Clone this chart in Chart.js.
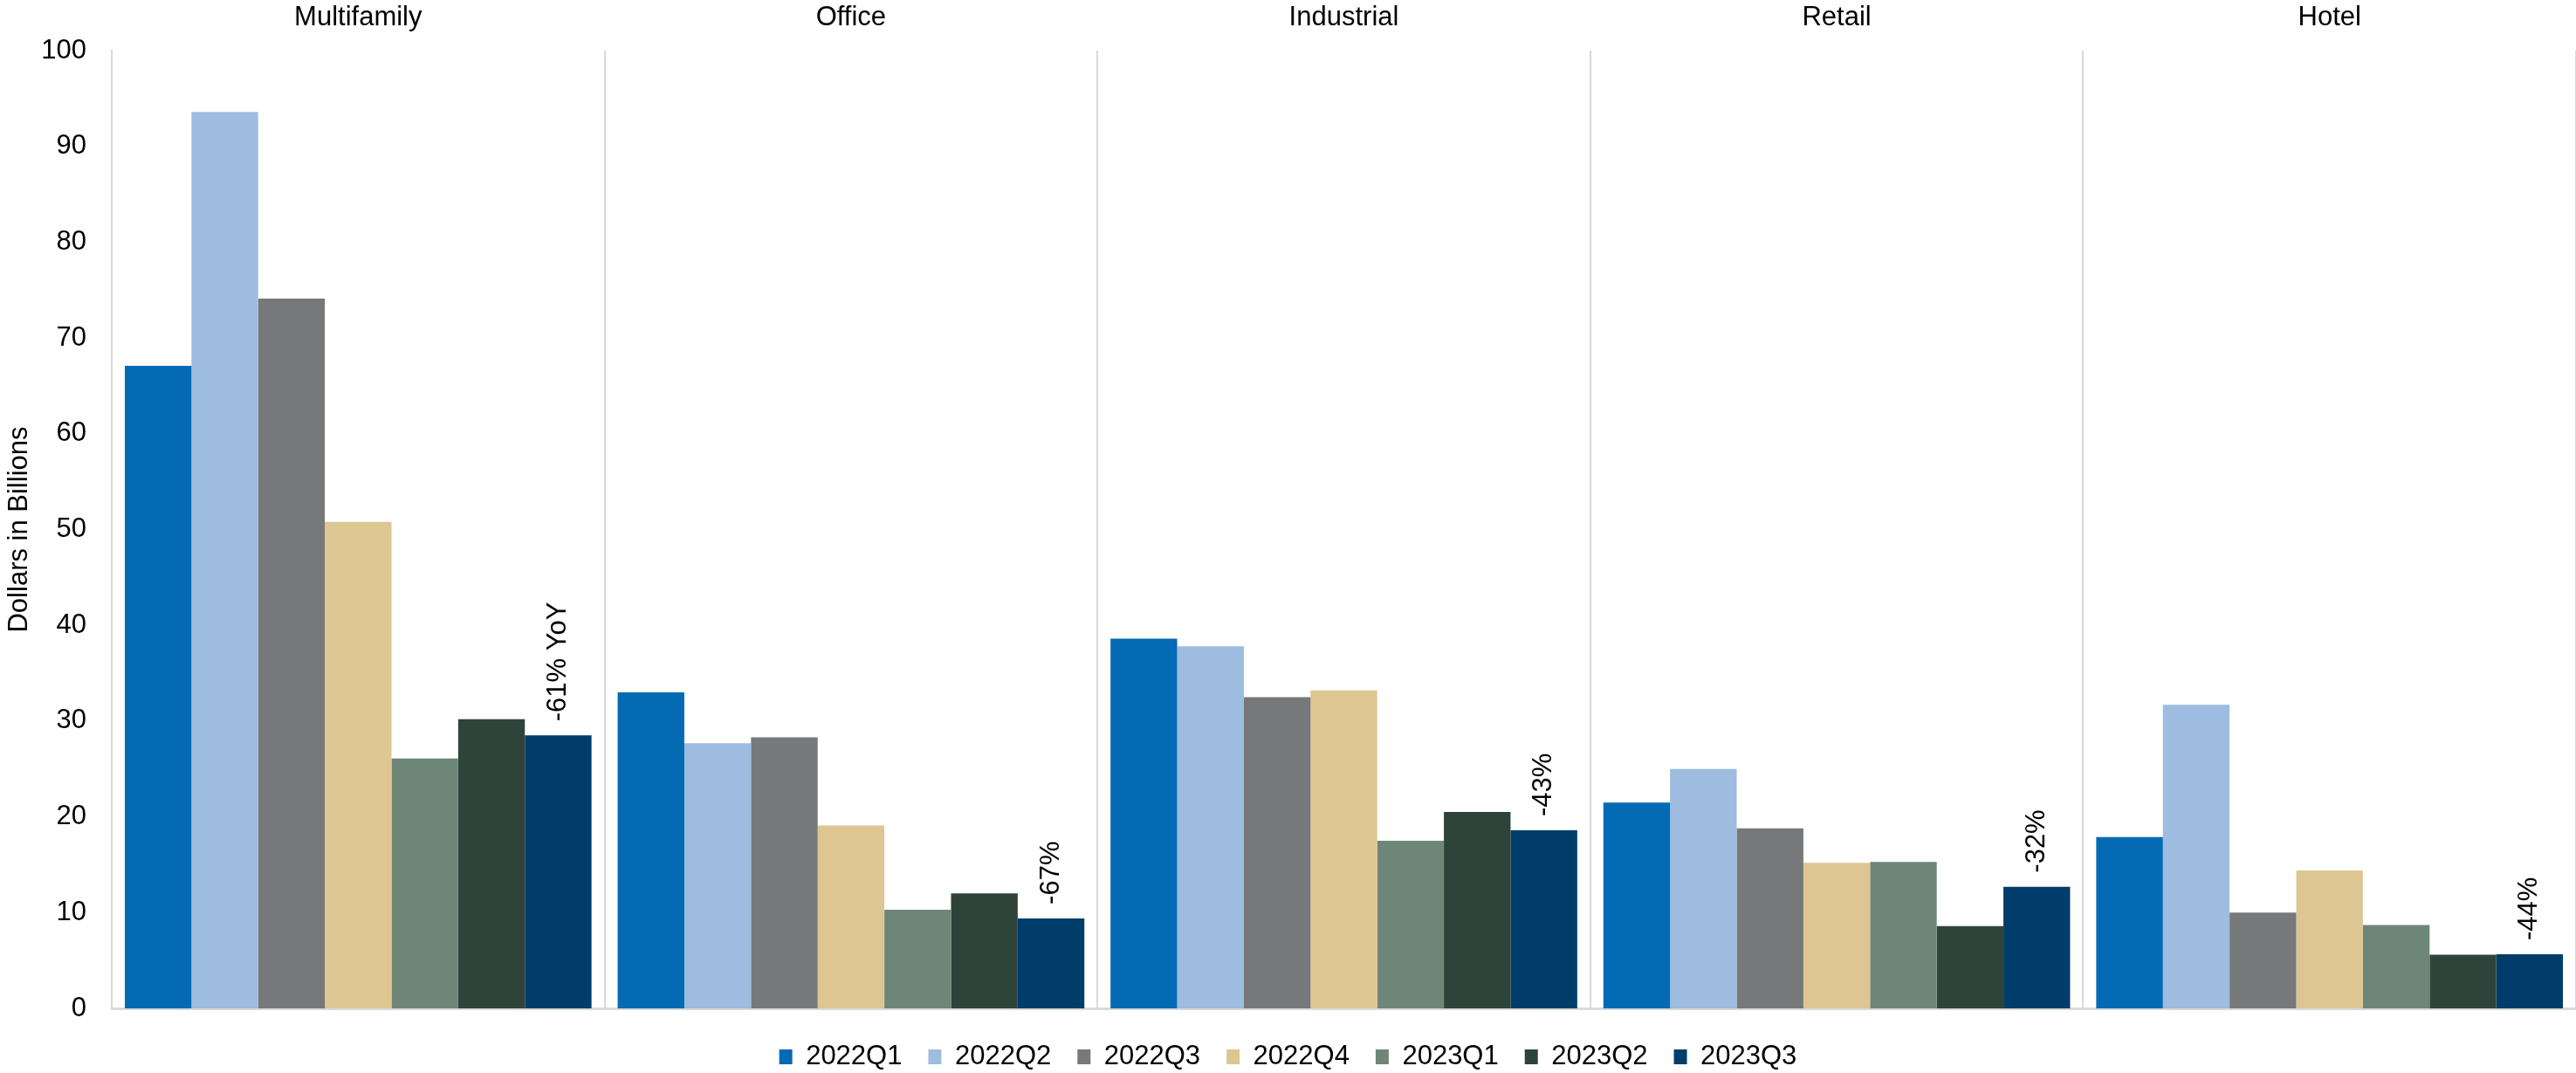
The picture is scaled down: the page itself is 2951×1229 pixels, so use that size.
<!DOCTYPE html>
<html lang="en">
<head>
  <meta charset="UTF-8" />
  <title>Transaction volume by property type</title>
  <script src="https://cdn.jsdelivr.net/npm/chart.js"></script>
  <style>
    html, body { margin: 0; padding: 0; background: #fff; }
    .chart-box { width: 2951px; height: 1229px; }
  </style>
</head>
<body>
  <div class="chart-box">
    <canvas id="volumeChart"></canvas>
  </div>

  <script>
    // data
    const categories = ['Multifamily', 'Office', 'Industrial', 'Retail', 'Hotel'];
    const quarters = ['2022Q1', '2022Q2', '2022Q3', '2022Q4', '2023Q1', '2023Q2', '2023Q3'];
    const q2022Q1 = [67.1, 33.0, 38.6, 21.5, 17.9];
    const q2022Q2 = [93.6, 27.7, 37.8, 25.0, 31.7];
    const q2022Q3 = [74.1, 28.3, 32.5, 18.8, 10.0];
    const q2022Q4 = [50.8, 19.1, 33.2, 15.2, 14.4];
    const q2023Q1 = [26.1, 10.3, 17.5, 15.3, 8.7];
    const q2023Q2 = [30.2, 12.0, 20.5, 8.6, 5.6];
    const q2023Q3 = [28.5, 9.4, 18.6, 12.7, 5.65];
    const yoyLabels = ['-61% YoY', '-67%', '-43%', '-32%', '-44%'];
    const colors = ['#046AB4', '#9DBCDF', '#77787A', '#DDC692', '#6E8677', '#2E443B', '#003D6A'];

    const seriesValues = [q2022Q1, q2022Q2, q2022Q3, q2022Q4, q2023Q1, q2023Q2, q2023Q3];

    Chart.defaults.font.family = "'Liberation Sans', Arial, sans-serif";
    Chart.defaults.font.size = 31;
    Chart.defaults.color = '#000';

    // rotated YoY text above the last bar of every group
    const yoyPlugin = {
      id: 'yoyText',
      afterDatasetsDraw(chart) {
        const meta = chart.getDatasetMeta(seriesValues.length - 1);
        const ctx = chart.ctx;
        ctx.save();
        ctx.font = "31px 'Liberation Sans', Arial, sans-serif";
        ctx.fillStyle = '#000';
        ctx.textAlign = 'left';
        ctx.textBaseline = 'middle';
        meta.data.forEach((bar, i) => {
          ctx.save();
          ctx.translate(bar.x, bar.y - 16);
          ctx.rotate(-Math.PI / 2);
          ctx.fillText(yoyLabels[i], 0, 0);
          ctx.restore();
        });
        ctx.restore();
      }
    };

    // legend height fixed so it sits where the reference has it
    const legendHeight = {
      id: 'legendHeight',
      beforeInit(chart) {
        const fitValue = chart.legend.fit;
        chart.legend.fit = function fit() {
          fitValue.bind(chart.legend)();
          this.height = 64;
        };
      }
    };

    const ctx = document.getElementById('volumeChart').getContext('2d');
    new Chart(ctx, {
      type: 'bar',
      data: {
        labels: categories,
        datasets: quarters.map((q, i) => ({
          label: q,
          data: seriesValues[i],
          backgroundColor: colors[i],
          borderWidth: 0,
          categoryPercentage: 0.947,
          barPercentage: 1.0
        }))
      },
      options: {
        responsive: true,
        maintainAspectRatio: false,
        animation: false,
        layout: { padding: { left: 0, right: 0, top: 0, bottom: 0 } },
        plugins: {
          legend: {
            position: 'bottom',
            labels: {
              boxWidth: 15,
              boxHeight: 17,
              padding: 30,
              color: '#000',
              font: { size: 31 }
            }
          },
          tooltip: { enabled: false }
        },
        scales: {
          x: {
            position: 'bottom',
            grid: { display: true, offset: true, color: '#d9d9d9', lineWidth: 2, drawTicks: false },
            border: { display: true, color: '#d9d9d9', width: 3 },
            ticks: { display: false },
            afterFit(scale) { scale.height = 10; }
          },
          x2: {
            type: 'category',
            position: 'top',
            labels: categories,
            offset: true,
            grid: { display: false, drawTicks: false },
            border: { display: false },
            ticks: { color: '#000', font: { size: 31 }, padding: 19, maxRotation: 0 },
            afterFit(scale) { scale.height = 58; }
          },
          y: {
            min: 0,
            max: 100,
            ticks: { stepSize: 10, color: '#000', font: { size: 31 }, padding: 29 },
            grid: { display: false, drawTicks: false },
            border: { display: true, color: '#d9d9d9', width: 2 },
            title: {
              display: true,
              text: 'Dollars in Billions',
              color: '#000',
              font: { size: 31 },
              padding: { top: 4, bottom: 0 }
            },
            afterFit(scale) { scale.width = 128; }
          }
        }
      },
      plugins: [yoyPlugin, legendHeight]
    });
  </script>
</body>
</html>
